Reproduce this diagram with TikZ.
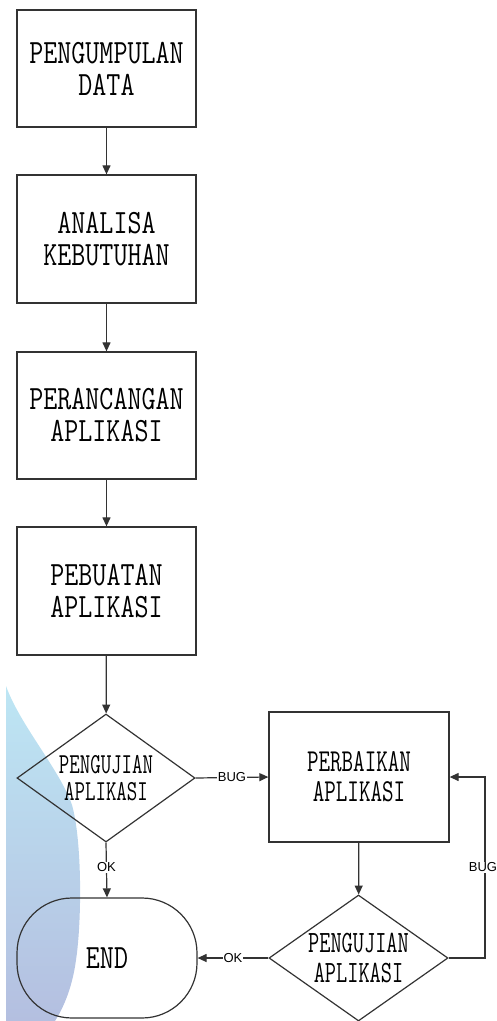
\documentclass[tikz,border=0pt]{standalone}
\usepackage{fontspec}
\usetikzlibrary{arrows.meta,shapes.geometric}
\newfontfamily\boxfont[FakeStretch=0.8]{Latin Modern Mono}
\newfontfamily\narrowfont[FakeStretch=0.7]{Latin Modern Mono}
\newfontfamily\lblfont{Liberation Sans}
\definecolor{lineclr}{HTML}{333333}
\definecolor{wmtop}{HTML}{BDE6F4}
\definecolor{wmmid}{HTML}{A9CDEA}
\definecolor{wmbot}{HTML}{B4BFE0}
\tikzset{
  flowline/.style={draw=lineclr,line width=1.2pt},
  arr/.style={flowline,-{Triangle[length=9pt,width=8pt]}},
  procbox/.style={draw=lineclr,line width=1.3pt,minimum width=179pt,inner sep=0pt,
     align=center,font=\boxfont\fontsize{34}{32}\selectfont},
  decis/.style={draw=lineclr,line width=1.2pt,diamond,inner sep=0pt,align=center},
  lbl/.style={fill=white,inner sep=1pt,font=\lblfont\fontsize{13}{13}\selectfont}
}
\begin{document}
\begin{tikzpicture}[x=1pt,y=-1pt]
\useasboundingbox (0,0) rectangle (497,1021);
% watermark shape
\shade[top color=wmtop, middle color=wmmid, bottom color=wmbot]
  (6,686) .. controls (20,725) and (60,770) .. (72,805)
  .. controls (82,840) and (82,920) .. (76,960)
  .. controls (72,990) and (62,1010) .. (55,1021)
  -- (6,1021) -- cycle;
% process boxes
\node[procbox,minimum height=117pt] (b1) at (106.5,68.5) {PENGUMPULAN\\DATA};
\node[procbox,minimum height=128pt] (b2) at (106.5,239) {ANALISA\\KEBUTUHAN};
\node[procbox,minimum height=127pt] (b3) at (106.5,415.5) {PERANCANGAN\\APLIKASI};
\node[procbox,minimum height=128pt] (b4) at (106.5,591) {PEBUATAN\\APLIKASI};
\node[decis,minimum width=178pt,minimum height=128pt,aspect=1.4,
      font=\narrowfont\fontsize{29}{27}\selectfont] (d1) at (106,778) {PENGUJIAN\\APLIKASI};
\node[procbox,minimum width=180pt,minimum height=130pt,
      font=\narrowfont\fontsize{32}{30}\selectfont] (fix) at (359,777) {PERBAIKAN\\APLIKASI};
\node[decis,minimum width=179pt,minimum height=126pt,aspect=1.4,
      font=\narrowfont\fontsize{31}{30}\selectfont] (d2) at (358.5,958) {PENGUJIAN\\APLIKASI};
\node[draw=lineclr,line width=1.2pt,rounded corners=55pt,minimum width=180pt,minimum height=120pt,
      inner sep=0pt,font=\boxfont\fontsize{34}{32}\selectfont] (endn) at (107,958) {END};
\coordinate (loopb) at (485,958);
\coordinate (loopt) at (485,777);
% connectors
\draw[arr] (b1) -- (b2);
\draw[arr] (b2) -- (b3);
\draw[arr] (b3) -- (b4);
\draw[arr] (b4) -- (d1);
\draw[arr] (d1.south) -- node[lbl,pos=0.45]{OK} (endn.north);
\draw[arr] (d1.east) -- node[lbl]{BUG} (fix.west);
\draw[arr] (fix) -- (d2);
\draw[arr] (d2.west) -- node[lbl]{OK} (endn.east);
\draw[arr] (d2.east) -- (loopb) -- node[lbl,pos=0.5,xshift=-2pt]{BUG} (loopt) -- (fix.east);
\end{tikzpicture}
\end{document}
